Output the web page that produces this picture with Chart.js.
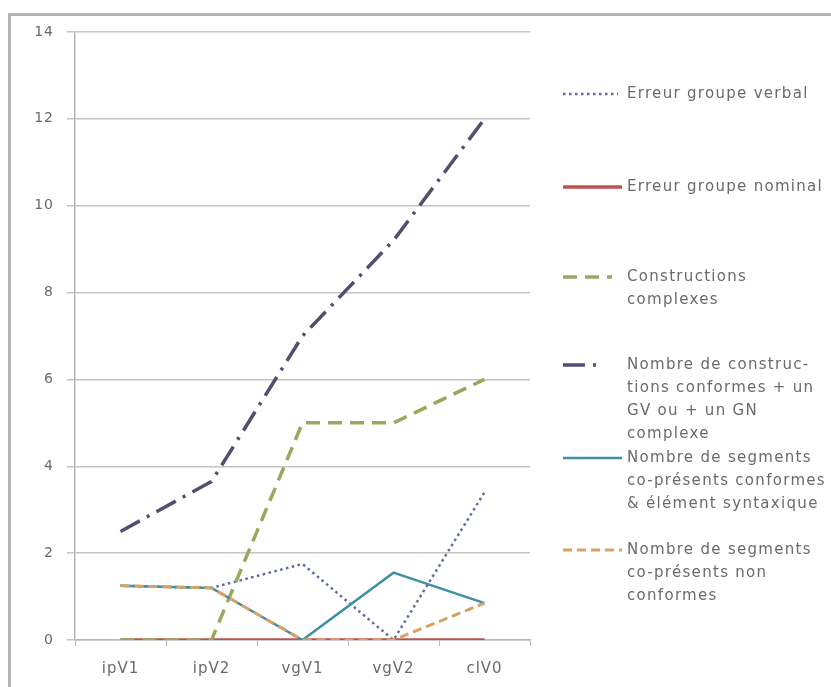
<!DOCTYPE html>
<html>
<head>
<meta charset="utf-8">
<script src="https://cdn.jsdelivr.net/npm/chart.js@4/dist/chart.umd.min.js"></script>
<style>
  body { margin: 0; background: #fff; }
  #wrap { position: relative; width: 831px; height: 687px; overflow: hidden; }
  #frame { position: absolute; left: 8px; top: 13px; width: 900px; height: 800px;
           border-left: 3px solid #b4b4b4; border-top: 3px solid #b4b4b4; }
  canvas { position: absolute; left: 0; top: 0; }
</style>
</head>
<body>
<div id="wrap">
  <div id="frame"></div>
  <canvas id="graf" width="831" height="687"></canvas>
</div>
<script>
// catégories (axe x)
const categories = ['ipV1', 'ipV2', 'vgV1', 'vgV2', 'clV0'];

// valeurs
const erreurGV = [1.25, 1.2, 1.75, 0, 3.4];
const erreurGN = [0, 0, 0, 0, 0];
const constructionsComplexes = [0, 0, 5, 5, 6];
const constructionsConformes = [2.5, 3.65, 7, 9.2, 12];
const segmentsConformes = [1.25, 1.2, 0, 1.55, 0.85];
const segmentsNonConformes = [1.25, 1.2, 0, 0, 0.85];

// libellés de la légende (une ligne par élément)
const legendLabels = [
    ['Erreur groupe verbal'],
    ['Erreur groupe nominal'],
    ['Constructions', 'complexes'],
    ['Nombre de construc-', 'tions conformes + un', 'GV ou + un GN', 'complexe'],
    ['Nombre de segments', 'co-présents conformes', '& élément syntaxique'],
    ['Nombre de segments', 'co-présents non', 'conformes']
];
const yTicks = [0, 2, 4, 6, 8, 10, 12, 14];

const FONT = '"DejaVu Sans", sans-serif';
const TEXT = '#6a6a6a';

function makeSet(i, values, color, width, dash) {
    return {
        label: legendLabels[i].join(' '),
        data: values,
        borderColor: color,
        backgroundColor: color,
        borderWidth: width,
        borderDash: dash,
        pointRadius: 0,
        tension: 0,
        fill: false,
        order: 10 - i
    };
}

const datasets = [
    makeSet(0, erreurGV, '#5b6d9b', 2.5, [2.5, 3.5]),
    makeSet(1, erreurGN, '#c0504d', 3.5, []),
    makeSet(2, constructionsComplexes, '#98a85e', 3.5, [14, 8]),
    makeSet(3, constructionsConformes, '#524e70', 3.5, [22, 8, 3, 8]),
    makeSet(4, segmentsConformes, '#3f90a4', 2.5, []),
    makeSet(5, segmentsNonConformes, '#d8a264', 3, [9, 5])
];

// texte un peu espacé, comme l'image d'origine
const spacingPlugin = {
    id: 'spacing',
    beforeDraw(chart) { chart.ctx.letterSpacing = '1px'; }
};

// légende dessinée à droite, comme dans Excel
const legendTops = [94, 187, 277, 365, 458, 550];
const sampleEnds = [618, 622, 612, 602, 622, 622];
const legendPlugin = {
    id: 'sideLegend',
    afterDraw(chart) {
        const ctx = chart.ctx;
        ctx.save();
        chart.data.datasets.forEach((ds, i) => {
            const y = legendTops[i];
            ctx.beginPath();
            ctx.strokeStyle = ds.borderColor;
            ctx.lineWidth = ds.borderWidth;
            ctx.setLineDash(ds.borderDash);
            ctx.moveTo(563, y);
            ctx.lineTo(sampleEnds[i], y);
            ctx.stroke();
            ctx.setLineDash([]);
            ctx.fillStyle = TEXT;
            ctx.font = '15px ' + FONT;
            ctx.letterSpacing = '1.3px';
            ctx.textBaseline = 'middle';
            legendLabels[i].forEach((line, k) => {
                ctx.fillText(line, 627, y + k * 23);
            });
        });
        ctx.restore();
    }
};

const ctx = document.getElementById('graf').getContext('2d');
new Chart(ctx, {
    type: 'line',
    data: { labels: categories, datasets: datasets },
    plugins: [spacingPlugin, legendPlugin],
    options: {
        responsive: false,
        animation: false,
        layout: { padding: { left: 0, right: 301, top: 32, bottom: 0 } },
        plugins: { legend: { display: false }, tooltip: { enabled: false } },
        scales: {
            x: {
                offset: true,
                afterFit: s => { s.height = 47; },
                grid: { offset: true, drawOnChartArea: false, drawTicks: true, tickLength: 6, color: '#b8b8b8' },
                border: { color: '#b8b8b8', width: 1.5 },
                ticks: { color: TEXT, font: { family: FONT, size: 15 }, padding: 14 }
            },
            y: {
                min: 0,
                max: 14,
                afterFit: s => { s.width = 75; },
                afterBuildTicks: s => { s.ticks = yTicks.map(v => ({ value: v })); },
                grid: { color: '#c4c4c4', lineWidth: 1.5, tickLength: 8 },
                border: { color: '#b8b8b8', width: 1.5 },
                ticks: { color: TEXT, font: { family: FONT, size: 14 }, padding: 13 }
            }
        }
    }
});
</script>
</body>
</html>
